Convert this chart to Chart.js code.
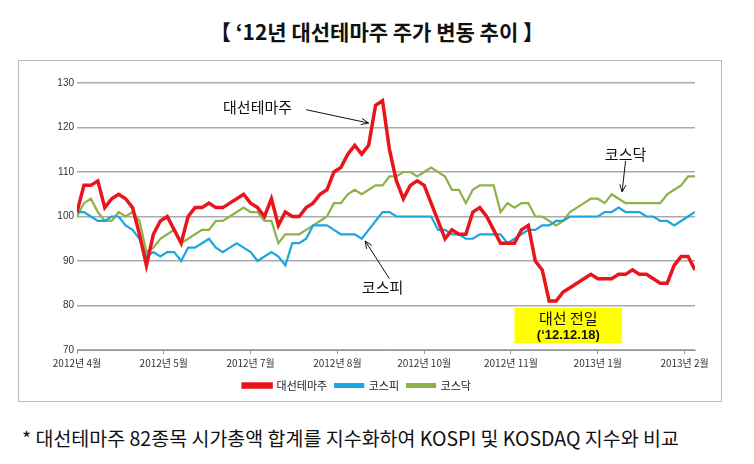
<!DOCTYPE html>
<html><head><meta charset="utf-8">
<script src="https://cdn.jsdelivr.net/npm/chart.js@4"></script>
<style>
body{margin:0;background:#fff;font-family:"Noto Sans CJK KR","Noto Sans",sans-serif;}
#title{position:absolute;left:0;width:754px;top:16px;text-align:center;font-size:21px;font-weight:bold;color:#111;}
#box{position:absolute;left:18px;top:60px;width:702px;height:340px;border:1px solid #bbb;}
#foot{position:absolute;left:22px;top:423px;font-size:19.5px;color:#111;}
</style></head><body>
<div id="title">【 ‘12년 대선테마주 주가 변동 추이 】</div>
<div id="box"><canvas id="c" width="702" height="340"></canvas></div>
<div id="foot">* 대선테마주 82종목 시가총액 합계를 지수화하여 KOSPI 및 KOSDAQ 지수와 비교</div>
<script>
const tickLabels=['2012년 4월','2012년 5월','2012년 7월','2012년 8월','2012년 10월','2012년 11월','2013년 1월','2013년 2월'];
const theme=[101,107,107,108,102,104,105,104,102,96,89,96,99,100,97,94,100,102,102,103,102,102,103,104,105,103,102,100,104,98,101,100,100,102,103,105,106,110,111,114,116,114,116,125,126,115,108,104,107,108,107,103,99,95,97,96,96,101,102,100,97,94,94,94,97,98,90,88,81,81,83,84,85,86,87,86,86,86,87,87,88,87,87,86,85,85,89,91,91,88];
const kospi=[101,101,100,99,99,100,100,98,97,95,91,92,91,92,92,90,93,93,94,95,93,92,93,94,93,92,90,91,92,91,89,94,94,95,98,98,98,97,96,96,96,95,97,99,101,101,100,100,100,100,100,100,97,97,96,96,95,95,96,96,96,96,94,95,96,97,97,98,98,99,99,100,100,100,100,100,101,101,102,101,101,101,100,100,99,99,98,99,100,101];
const kosdaq=[100,103,104,101,99,99,101,100,101,99,92,93,95,96,97,94,95,96,97,97,99,99,100,101,102,101,101,99,99,94,96,96,96,97,98,99,100,103,103,105,106,105,106,107,107,109,109,110,110,109,110,111,110,109,106,106,103,106,107,107,107,101,103,102,103,103,100,100,99,98,99,101,102,103,104,104,103,105,104,103,103,103,103,103,103,105,106,107,109,109];
const names=['대선테마주','코스피','코스닥'];
const toPts=a=>a.map((v,i)=>({x:i*2,y:v}));
const annot={id:'annot',afterDatasetsDraw(ch){
 const c=ch.ctx,x=ch.scales.x,y=ch.scales.y;
 const arrow=(x1,y1,x2,y2)=>{c.strokeStyle='#111';c.fillStyle='#111';c.lineWidth=1;c.beginPath();c.moveTo(x1,y1);c.lineTo(x2,y2);c.stroke();
  const a=Math.atan2(y2-y1,x2-x1);c.beginPath();c.moveTo(x2,y2);c.lineTo(x2-8*Math.cos(a-0.4),y2-8*Math.sin(a-0.4));c.moveTo(x2,y2);c.lineTo(x2-8*Math.cos(a+0.4),y2-8*Math.sin(a+0.4));c.stroke();};
 c.save();c.font='15px "Noto Sans CJK KR"';c.fillStyle='#111';c.textAlign='center';c.textBaseline='middle';
 c.fillText('대선테마주',x.getPixelForValue(52),y.getPixelForValue(124.5));
 arrow(x.getPixelForValue(66),y.getPixelForValue(124),x.getPixelForValue(84),y.getPixelForValue(121));
 c.fillText('코스피',x.getPixelForValue(88),y.getPixelForValue(84));
 arrow(x.getPixelForValue(90),y.getPixelForValue(86),x.getPixelForValue(83),y.getPixelForValue(94.5));
 c.fillText('코스닥',x.getPixelForValue(158),y.getPixelForValue(114));
 arrow(x.getPixelForValue(158),y.getPixelForValue(112.5),x.getPixelForValue(157),y.getPixelForValue(105.5));
 const bx1=x.getPixelForValue(126),bx2=x.getPixelForValue(157),by1=y.getPixelForValue(79.5),by2=y.getPixelForValue(71.5);
 c.fillStyle='#ffff00';c.fillRect(bx1,by1,bx2-bx1,by2-by1);
 c.fillStyle='#111';c.font='15px "Noto Sans CJK KR"';c.fillText('대선 전일',(bx1+bx2)/2,by1+11);
 c.font='bold 13px "Liberation Sans"';c.fillText('(‘12.12.18)',(bx1+bx2)/2,by1+28);
 c.restore();}};
new Chart(document.getElementById('c'),{type:'line',
 data:{datasets:[
  {label:names[0],data:toPts(theme),borderColor:'#e8161b',backgroundColor:'#e8161b',borderWidth:3.5},
  {label:names[1],data:toPts(kospi),borderColor:'#1aa7e0',backgroundColor:'#1aa7e0',borderWidth:2.2},
  {label:names[2],data:toPts(kosdaq),borderColor:'#8fb14a',backgroundColor:'#8fb14a',borderWidth:2.2}]},
 options:{responsive:false,animation:false,layout:{padding:{top:22,right:26,left:0,bottom:0}},
  elements:{point:{radius:0},line:{tension:0}},
  plugins:{tooltip:{enabled:false},
   legend:{position:'bottom',labels:{boxWidth:28,boxHeight:3,color:'#222',font:{size:11,family:'"Noto Sans CJK KR"'},padding:8}}},
  scales:{
   x:{type:'linear',min:0,max:178,afterBuildTicks:s=>{s.ticks=tickLabels.map((t,i)=>({value:i*25}));},
    grid:{drawOnChartArea:false,drawTicks:true,tickLength:4,color:'#999'},border:{color:'#999'},
    ticks:{callback:(v,i)=>tickLabels[i],maxRotation:0,autoSkip:false,color:'#333',font:{size:10,family:'"Noto Sans CJK KR"'}}},
   y:{min:70,max:130,afterFit:s=>{s.width=58;},
    ticks:{stepSize:10,color:'#333',font:{size:10,family:'"Liberation Sans"'}},
    grid:{color:'#aaa',drawTicks:false,lineWidth:1.5},border:{display:false}}}},
 plugins:[annot]});
</script></body></html>
